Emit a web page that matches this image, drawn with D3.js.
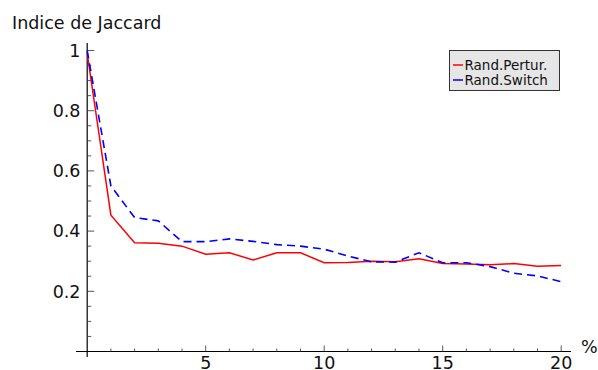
<!DOCTYPE html>
<html>
<head>
<meta charset="utf-8">
<script src="https://cdn.jsdelivr.net/npm/d3@7"></script>
<style>
  html, body { margin: 0; padding: 0; background: #fff; }
  svg { display: block; font-family: "DejaVu Sans", sans-serif; }
</style>
</head>
<body>
<script>
// Percentage of perturbation (x) and Jaccard index of each randomisation method
const percent = d3.range(0, 21);
const randPertur = [0.99, 0.453, 0.361, 0.360, 0.350, 0.323, 0.328, 0.304, 0.328, 0.328,
                    0.295, 0.296, 0.300, 0.298, 0.308, 0.292, 0.291, 0.288, 0.292, 0.283, 0.286];
const randSwitch = [1.0, 0.550, 0.445, 0.434, 0.365, 0.365, 0.374, 0.366, 0.355, 0.350,
                    0.340, 0.317, 0.298, 0.297, 0.328, 0.295, 0.295, 0.282, 0.260, 0.251, 0.232];
const seriesNames = ["Rand.Pertur.", "Rand.Switch"];
const xMajorTicks = [5, 10, 15, 20];
const yMajorTicks = [0.2, 0.4, 0.6, 0.8, 1];
const yLabel = "Indice de Jaccard";
const xLabel = "%";

const W = 598, H = 370;
const svg = d3.select("body").append("svg").attr("width", W).attr("height", H);

const x = d3.scaleLinear().domain([0, 20]).range([87.2, 561.2]);
const y = d3.scaleLinear().domain([0, 1]).range([351.5, 50.5]);

const axisG = svg.append("g");

// axis lines, crossing at the origin and running slightly past it
axisG.append("line").attr("x1", 76).attr("x2", 571).attr("y1", y(0)).attr("y2", y(0))
  .attr("stroke", "#000").attr("stroke-width", 1.2);
axisG.append("line").attr("x1", x(0)).attr("x2", x(0)).attr("y1", 43).attr("y2", 357)
  .attr("stroke", "#000").attr("stroke-width", 1.2);

// inward ticks: y minor every 0.05, x minor every 1
const yMinor = d3.range(1, 21).map(i => i * 0.05);
axisG.selectAll(".ytick").data(yMinor).join("line")
  .attr("x1", x(0)).attr("y1", d => y(d)).attr("y2", d => y(d))
  .attr("x2", d => x(0) + (yMajorTicks.some(t => Math.abs(t - d) < 1e-9) ? 7 : 4))
  .attr("stroke", "#444").attr("stroke-width", 0.9);

const xMinor = d3.range(1, 21);
axisG.selectAll(".xtick").data(xMinor).join("line")
  .attr("y1", y(0)).attr("x1", d => x(d)).attr("x2", d => x(d))
  .attr("y2", d => y(0) - (xMajorTicks.includes(d) ? 6 : 3))
  .attr("stroke", "#444").attr("stroke-width", 0.9);

// tick labels
axisG.selectAll(".ylab").data(yMajorTicks).join("text")
  .attr("x", 80.5).attr("y", d => y(d)).attr("dy", "0.36em")
  .attr("text-anchor", "end").attr("font-size", 17.5).attr("fill", "#111")
  .text(d => d3.format("~g")(d));

axisG.selectAll(".xlab").data(xMajorTicks).join("text")
  .attr("x", d => x(d)).attr("y", 369)
  .attr("text-anchor", "middle").attr("font-size", 17.5).attr("fill", "#111")
  .text(d => d);

svg.append("text").attr("x", 12).attr("y", 29).attr("font-size", 17.5).attr("fill", "#111")
  .text(yLabel);
svg.append("text").attr("x", 581).attr("y", 352.5).attr("font-size", 17.5).attr("fill", "#111")
  .text(xLabel);

// data lines
const line = d3.line().x((d, i) => x(percent[i])).y(d => y(d));
svg.append("path").datum(randPertur).attr("d", line)
  .attr("fill", "none").attr("stroke", "#ff0000").attr("stroke-width", 1.5);
svg.append("path").datum(randSwitch).attr("d", line)
  .attr("fill", "none").attr("stroke", "#0000ff").attr("stroke-width", 1.6)
  .attr("stroke-dasharray", "8,5");

// legend
const leg = svg.append("g");
leg.append("rect").attr("x", 449.5).attr("y", 50.5).attr("width", 110).attr("height", 40)
  .attr("fill", "#e6e6e6").attr("stroke", "#333").attr("stroke-width", 1);
const legColors = ["#ff0000", "#0000ff"];
seriesNames.forEach((name, i) => {
  const cy = 65 + i * 15;
  leg.append("line").attr("x1", 453).attr("x2", 463).attr("y1", cy).attr("y2", cy)
    .attr("stroke", legColors[i]).attr("stroke-width", 1.5);
  leg.append("text").attr("x", 464.5).attr("y", cy).attr("dy", "0.36em")
    .attr("font-size", 13.5).attr("fill", "#111").text(name);
});
</script>
</body>
</html>
